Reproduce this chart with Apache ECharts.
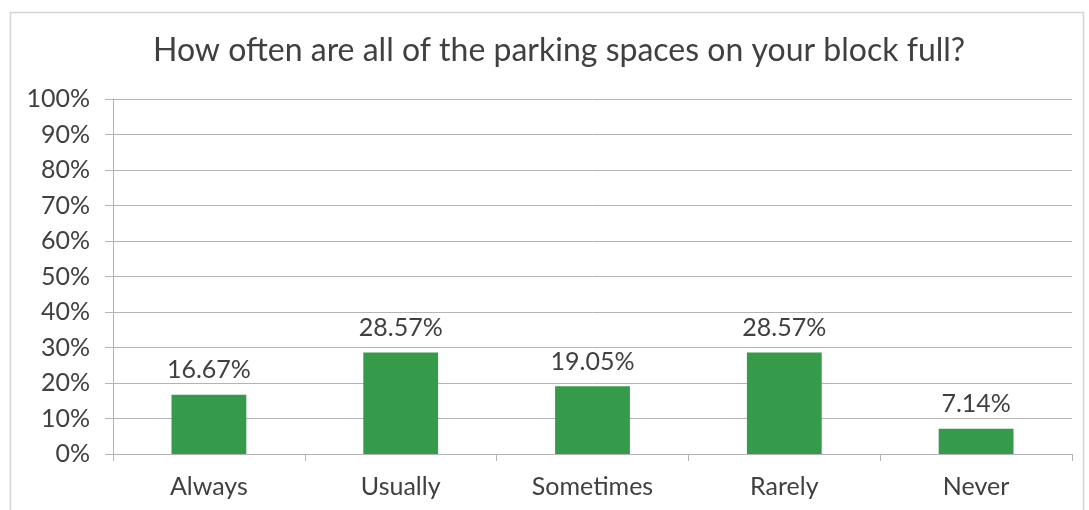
<!DOCTYPE html>
<html>
<head>
<meta charset="utf-8">
<script src="https://cdn.jsdelivr.net/npm/echarts@6/dist/echarts.min.js"></script>
<style>
  html, body { margin: 0; padding: 0; background: #fff; }
  #chart { width: 1089px; height: 510px; }
</style>
</head>
<body>
<div id="chart"></div>
<script>
// Survey answers and the share of respondents for each
const categories = ['Always', 'Usually', 'Sometimes', 'Rarely', 'Never'];
const shares = [16.67, 28.57, 19.05, 28.57, 7.14];
const titleText = 'How often are all of the parking spaces on your block full?';

const textColor = '#404040';
const fontFamily = 'Lato, "Open Sans", sans-serif';

const chart = echarts.init(document.getElementById('chart'));
chart.setOption({
  animation: false,
  backgroundColor: '#ffffff',
  graphic: [{
    type: 'rect',
    left: 8, top: 10,
    shape: { width: 1073, height: 520 },
    style: { fill: 'none', stroke: '#d4d4d4', lineWidth: 1.5 },
    silent: true
  }],
  title: {
    text: titleText,
    left: 148,
    top: 30,
    textStyle: { color: textColor, fontSize: 32, fontWeight: 'normal', fontFamily: fontFamily }
  },
  grid: { left: 113, right: 17, top: 99, bottom: 56, containLabel: false },
  xAxis: {
    type: 'category',
    data: categories,
    axisLine: { show: true, lineStyle: { color: '#b3b3b3', width: 1 } },
    axisTick: { show: true, alignWithLabel: false, length: 7, lineStyle: { color: '#b3b3b3' } },
    axisLabel: { color: textColor, fontSize: 25, margin: 20, fontFamily: fontFamily }
  },
  yAxis: {
    type: 'value',
    min: 0, max: 100, interval: 10,
    axisLine: { show: true, lineStyle: { color: '#b3b3b3', width: 1 } },
    axisTick: { show: true, length: 8, lineStyle: { color: '#b3b3b3' } },
    splitLine: { show: true, lineStyle: { color: '#b3b3b3', width: 1 } },
    axisLabel: { color: textColor, fontSize: 25, margin: 23, fontFamily: fontFamily, formatter: '{value}%' }
  },
  series: [{
    type: 'bar',
    data: shares,
    barWidth: '39%',
    itemStyle: { color: '#369a4b' },
    label: {
      show: true,
      position: 'top',
      distance: 12,
      color: textColor,
      fontSize: 25,
      fontFamily: fontFamily,
      formatter: p => p.value.toFixed(2) + '%'
    }
  }]
});
</script>
</body>
</html>
